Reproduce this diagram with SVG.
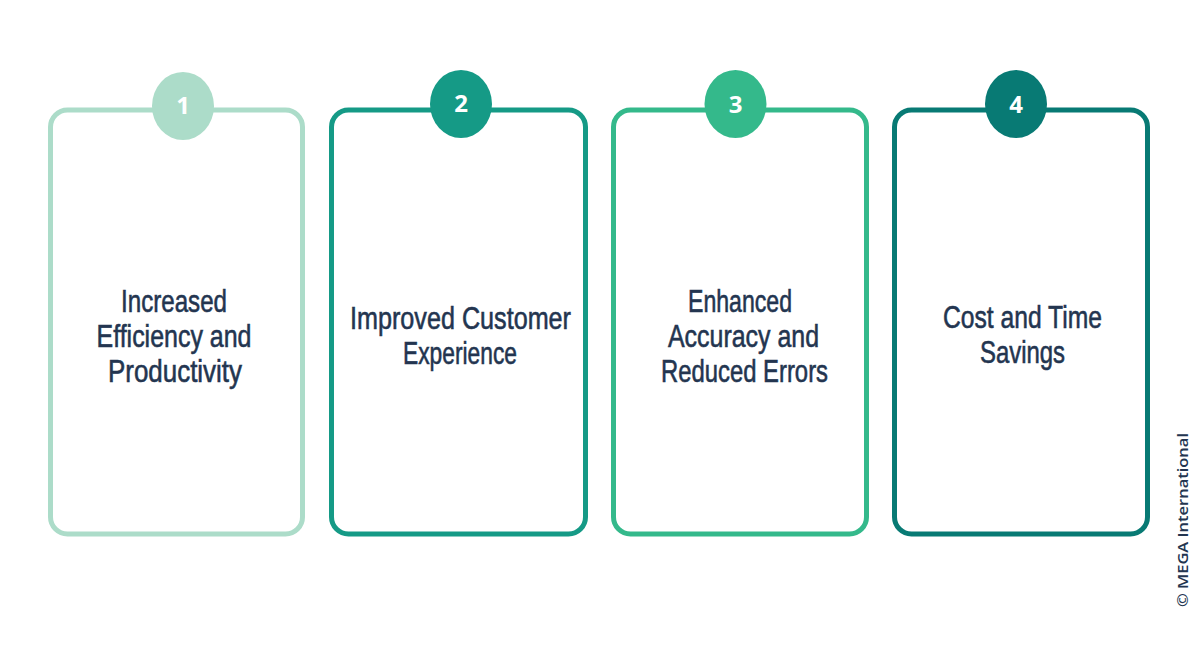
<svg xmlns="http://www.w3.org/2000/svg" width="1200" height="657" viewBox="0 0 1200 657">
<style>
.box{fill:#ffffff;stroke-width:5}
.lbl{font-family:"Liberation Sans",Arial,sans-serif;font-size:32px;fill:#233550;stroke:#233550;stroke-width:0.6;text-anchor:middle}
.num{font-family:"Open Sans","Liberation Sans",sans-serif;font-weight:700;font-size:24px;fill:#ffffff;text-anchor:middle}
.c1{stroke:#acdcc9}.f1{fill:#acdcc9}
.c2{stroke:#159a86}.f2{fill:#159a86}
.c3{stroke:#34b98b}.f3{fill:#34b98b}
.c4{stroke:#087a74}.f4{fill:#087a74}
</style>
<rect width="1200" height="657" fill="#ffffff"/>
<g id="connectors"></g>
<g id="node1">
<rect class="box c1" x="50.5" y="110" width="252" height="424" rx="17"/>
<ellipse class="f1" cx="183" cy="106" rx="31" ry="34"/>
<text class="num" x="183" y="114">1</text>
<text class="lbl" x="174" y="312" textLength="106" lengthAdjust="spacingAndGlyphs">Increased</text>
<text class="lbl" x="174" y="347" textLength="155" lengthAdjust="spacingAndGlyphs">Efficiency and</text>
<text class="lbl" x="175" y="382" textLength="134" lengthAdjust="spacingAndGlyphs">Productivity</text>
</g>
<g id="node2">
<rect class="box c2" x="331.5" y="110" width="254" height="424" rx="17"/>
<ellipse class="f2" cx="461" cy="104" rx="31" ry="34"/>
<text class="num" x="461" y="112">2</text>
<text class="lbl" x="460.5" y="329" textLength="221" lengthAdjust="spacingAndGlyphs">Improved Customer</text>
<text class="lbl" x="460" y="364" textLength="114" lengthAdjust="spacingAndGlyphs">Experience</text>
</g>
<g id="node3">
<rect class="box c3" x="613.5" y="110" width="253" height="424" rx="17"/>
<ellipse class="f3" cx="735.5" cy="104" rx="31" ry="34"/>
<text class="num" x="735.5" y="113">3</text>
<text class="lbl" x="740" y="312" textLength="104" lengthAdjust="spacingAndGlyphs">Enhanced</text>
<text class="lbl" x="743.5" y="347" textLength="151" lengthAdjust="spacingAndGlyphs">Accuracy and</text>
<text class="lbl" x="744.5" y="382" textLength="167" lengthAdjust="spacingAndGlyphs">Reduced Errors</text>
</g>
<g id="node4">
<rect class="box c4" x="894.5" y="110" width="253" height="424" rx="17"/>
<ellipse class="f4" cx="1016" cy="104" rx="31" ry="34"/>
<text class="num" x="1016" y="113">4</text>
<text class="lbl" x="1022.5" y="328" textLength="159" lengthAdjust="spacingAndGlyphs">Cost and Time</text>
<text class="lbl" x="1022.5" y="363" textLength="85" lengthAdjust="spacingAndGlyphs">Savings</text>
</g>
<text transform="translate(1188,520) rotate(-90)" font-family="'Open Sans','Liberation Sans',sans-serif" font-size="14" font-weight="600" fill="#233550" text-anchor="middle" textLength="174" lengthAdjust="spacingAndGlyphs">© MEGA International</text>
</svg>
